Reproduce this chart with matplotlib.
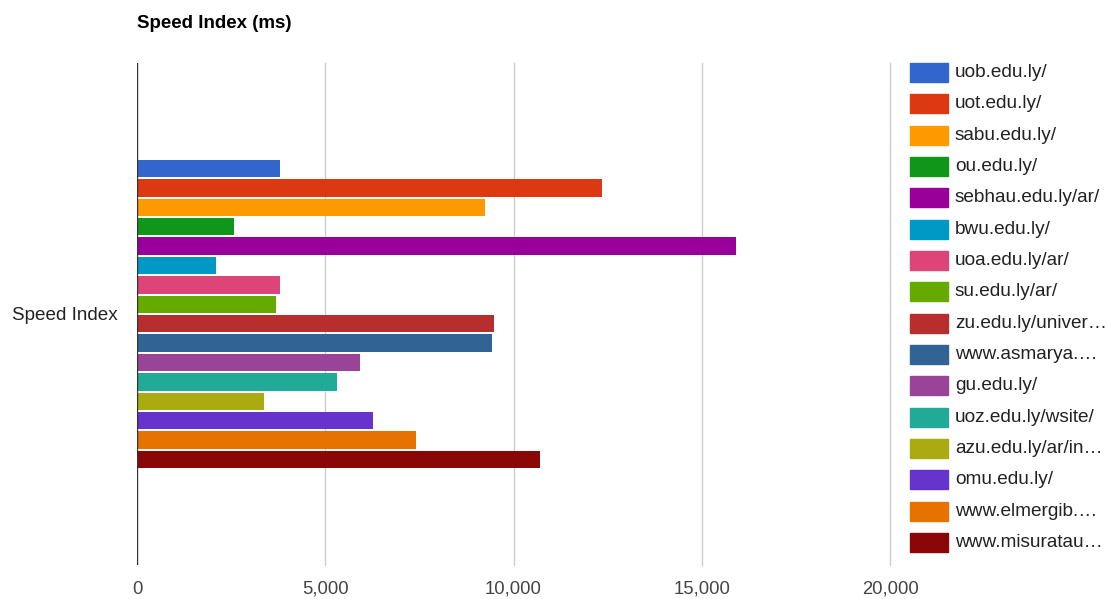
import matplotlib.pyplot as plt
from matplotlib.patches import Rectangle

plt.rcParams['font.family'] = ['Liberation Sans', 'DejaVu Sans']

# data
sites = ["uob.edu.ly/", "uot.edu.ly/", "sabu.edu.ly/", "ou.edu.ly/",
         "sebhau.edu.ly/ar/", "bwu.edu.ly/", "uoa.edu.ly/ar/", "su.edu.ly/ar/",
         "zu.edu.ly/univer\u2026", "www.asmarya.\u2026", "gu.edu.ly/",
         "uoz.edu.ly/wsite/", "azu.edu.ly/ar/in\u2026", "omu.edu.ly/",
         "www.elmergib.\u2026", "www.misuratau\u2026"]
speed_index = [3790, 12360, 9230, 2570, 15900, 2100, 3790, 3680,
               9490, 9420, 5910, 5310, 3360, 6280, 7420, 10710]
category = "Speed Index"
x_ticks = [0, 5000, 10000, 15000, 20000]

colors = ['#3366cc', '#dc3912', '#ff9900', '#109618', '#990099', '#0099c6',
          '#dd4477', '#66aa00', '#b82e2e', '#316395', '#994499', '#22aa99',
          '#aaaa11', '#6633cc', '#e67300', '#8b0707']

W, H = 1107, 599
fig = plt.figure(figsize=(W / 100, H / 100), dpi=100)
ax = fig.add_axes([137 / W, (H - 565) / H, (890 - 137) / W, (565 - 63) / H])

n = len(sites)
group = 0.618
slot = group / n
for i, (val, c) in enumerate(zip(speed_index, colors)):
    y = group / 2 - slot * (i + 0.5)
    ax.barh(y, val, height=slot * 0.9, color=c, zorder=3)

ax.set_xlim(0, 20000)
ax.set_ylim(-0.5, 0.5)
ax.set_xticks(x_ticks)
ax.set_xticklabels([f"{t:,}" for t in x_ticks], color='#444444', fontsize=13.3)
ax.set_yticks([0])
ax.set_yticklabels([category], color='#222222', fontsize=13.6)
ax.tick_params(length=0)
ax.tick_params(axis='x', pad=11.5)
ax.tick_params(axis='y', pad=13.7)
for t in x_ticks[1:]:
    ax.axvline(t, color='#cccccc', lw=1, zorder=0, clip_on=False)
for s in ax.spines.values():
    s.set_visible(False)
ax.axvline(0, color='#333333', lw=1, zorder=4)

fig.text(137 / W, 1 - 23 / H, "Speed Index (ms)", fontsize=13.5, fontweight='bold',
         color='#000000', va='center', ha='left')

# legend drawn by hand, right of the plot
y0, step = 72.5, 31.33
for i, (name, c) in enumerate(zip(sites, colors)):
    yc = y0 + i * step
    fig.patches.append(Rectangle((910 / W, 1 - (yc + 9.5) / H), 38 / W, 19 / H,
                                 transform=fig.transFigure, color=c))
    fig.text(955 / W, 1 - yc / H, name, fontsize=13.7, color='#222222',
             va='center', ha='left')

fig.savefig("out.png", dpi=100)
